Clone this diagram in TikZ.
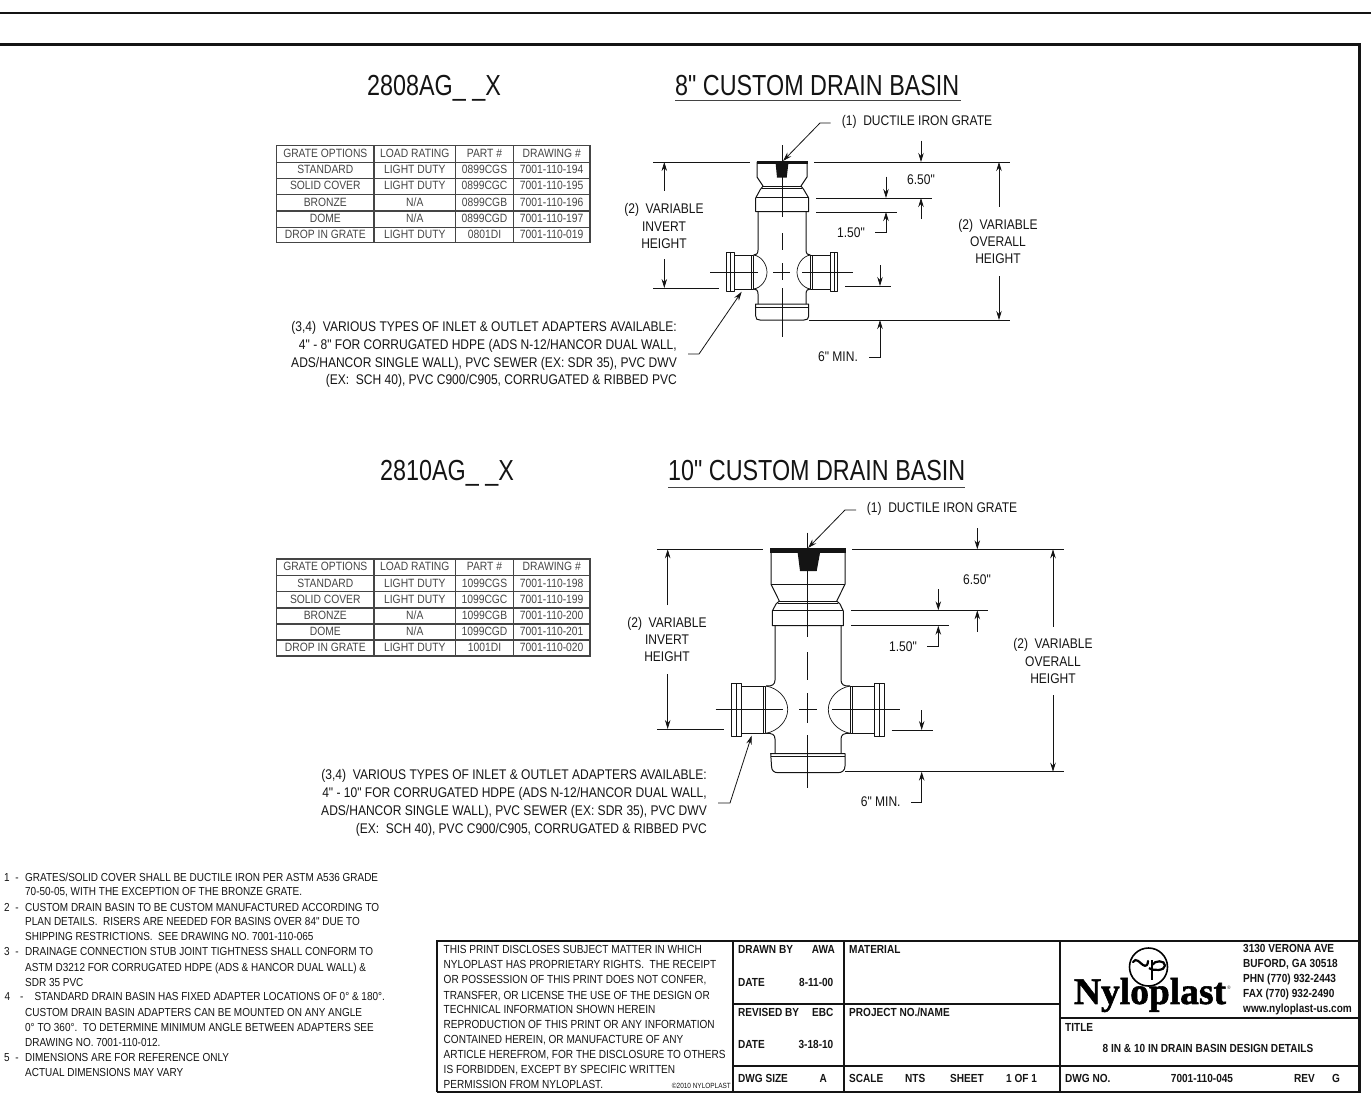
\documentclass[tikz,border=0pt]{standalone}
\usepackage{fontspec}
\setmainfont{Liberation Sans}[FakeStretch=0.86,Ligatures=TeXOff]
\newfontfamily\bigfont{Liberation Sans}[FakeStretch=0.805,Ligatures=TeXOff]
\newfontfamily\logofont{Liberation Serif}[FakeBold=1.5]
\usetikzlibrary{arrows.meta}
\definecolor{ink}{gray}{0.08}
\definecolor{tablegray}{gray}{0.27}
\tikzset{
 lab/.style={inner sep=0pt,align=center,text=ink,font=\fontsize{14}{17.4}\selectfont},
 labw/.style={lab,anchor=west,align=left},
 longlab/.style={inner sep=0pt,anchor=east,align=right,text=ink,font=\fontsize{14}{17.8}\selectfont},
 note/.style={inner sep=0pt,anchor=west,align=left,text=ink,text height=9.4pt,text depth=2.4pt,font=\fontsize{11.6}{14}\selectfont},
 block/.style={inner sep=0pt,anchor=west,align=left,text=ink,text height=9.4pt,text depth=2.4pt,font=\fontsize{11.7}{15}\selectfont},
 blockb/.style={block,font=\fontsize{11.7}{15}\selectfont\bfseries},
 tabc/.style={inner sep=0pt,text=tablegray,text height=9.4pt,text depth=2.4pt,font=\fontsize{12}{14}\selectfont},
 bigt/.style={inner sep=0pt,text=ink,text height=21pt,text depth=5pt,font=\bigfont\fontsize{29}{32}\selectfont},
 dim/.style={line width=0.8pt,draw=ink},
 tipd/.style={dim,-{Stealth[length=9pt,width=5.5pt]}},
 part/.style={line width=1pt,draw=ink,line join=round},
 fine/.style={line width=0.7pt,draw=ink,line join=round},
 frame/.style={line width=2pt,draw=ink},
 tbl/.style={line width=1.1pt,draw=tablegray},
}
\begin{document}
\begin{tikzpicture}[x=1pt,y=-1pt]
\useasboundingbox (0,0) rectangle (1371,1117);
% sheet frame
\draw[line width=2pt,draw=ink] (0,12.5) -- (1371,12.5);
\draw[line width=2.8pt,draw=ink] (0,44.5) -- (1359.5,44.5) -- (1359.5,1092) -- (437,1092);
% titles
\node[bigt,anchor=west] (t1a) at (367,87) {2808AG\_ \_X};
\node[bigt,anchor=west] (t1b) at (675,87) {8" CUSTOM DRAIN BASIN};
\draw[line width=1pt,draw=ink!80] (675,100) -- (961,100);
\node[bigt,anchor=west] (t2a) at (380,472) {2810AG\_ \_X};
\node[bigt,anchor=west] (t2b) at (668,472) {10" CUSTOM DRAIN BASIN};
\draw[line width=1pt,draw=ink!80] (668,487) -- (965,487);
% tables
\foreach \ty/\ya/\yb/\yc/\yd/\ye/\yf/\yg in {0/145.7/162.3/178.3/194.3/211/227.3/242.3, 1/559/575.5/591.5/608/624/640/656}{
 \draw[tbl] (276.7,\ya) rectangle (590,\yg);
 \foreach \yy in {\yb,\yc,\yd,\ye,\yf} \draw[tbl] (276.7,\yy) -- (590,\yy);
 \foreach \xx in {374,455.7,513.3} \draw[tbl] (\xx,\ya) -- (\xx,\yg);
}
\foreach \ya/\a/\b/\c/\d in {
 154/GRATE OPTIONS/LOAD RATING/PART \#/DRAWING \#,
 170.3/STANDARD/LIGHT DUTY/0899CGS/7001-110-194,
 186.3/SOLID COVER/LIGHT DUTY/0899CGC/7001-110-195,
 202.7/BRONZE/{N/A}/0899CGB/7001-110-196,
 219.2/DOME/{N/A}/0899CGD/7001-110-197,
 235/DROP IN GRATE/LIGHT DUTY/0801DI/7001-110-019,
 567/GRATE OPTIONS/LOAD RATING/PART \#/DRAWING \#,
 583.5/STANDARD/LIGHT DUTY/1099CGS/7001-110-198,
 599.7/SOLID COVER/LIGHT DUTY/1099CGC/7001-110-199,
 616/BRONZE/{N/A}/1099CGB/7001-110-200,
 632/DOME/{N/A}/1099CGD/7001-110-201,
 648/DROP IN GRATE/LIGHT DUTY/1001DI/7001-110-020}{
 \node[tabc] at (325.3,\ya) {\a};
 \node[tabc] at (414.8,\ya) {\b};
 \node[tabc] at (484.5,\ya) {\c};
 \node[tabc] at (551.7,\ya) {\d};
}
%% ---------- basin 1
\draw[part] (757,162) -- (757,177) -- (763,186) -- (760,190) -- (755.7,198) -- (755.7,211.7) -- (808.7,211.7) -- (808.7,198) -- (804,190) -- (801,186) -- (807,177) -- (807,162) -- cycle;
\draw[part] (755.7,197.7) -- (808.7,197.7) (763,186) -- (801,186) (762,188) -- (802,188);
\fill[ink] (756.5,161) rectangle (807.5,164);
\fill[ink] (775.7,164) -- (788.3,164) -- (786.7,177.7) -- (777,177.7) -- cycle;
% body
\draw[part] (758,212) -- (758,250) .. controls (758,254) and (756,255) .. (753.7,255);
\draw[part] (806,212) -- (806,250) .. controls (806,254) and (808,255) .. (810.3,255);
\draw[part] (758,304) -- (758,294) .. controls (758,290) and (756,289) .. (753.7,289);
\draw[part] (806,304) -- (806,294) .. controls (806,290) and (808,289) .. (810.3,289);
% branches
\draw[part] (726.7,252.7) rectangle (734,291.7);
\draw[fine] (730,252.7) -- (730,291.7);
\draw[part] (734,255) rectangle (751.7,289);
\draw[fine] (751.7,255) rectangle (753.7,289);
\draw[fine] (753.7,255) .. controls (761,256) and (767,264) .. (767,272.3) .. controls (767,280) and (761,288) .. (753.7,289);
\draw[part] (837.3,252.7) rectangle (830,291.7);
\draw[fine] (834,252.7) -- (834,291.7);
\draw[part] (830,255) rectangle (812.3,289);
\draw[fine] (812.3,255) rectangle (810.3,289);
\draw[fine] (810.3,255) .. controls (803,256) and (797,264) .. (797,272.3) .. controls (797,280) and (803,288) .. (810.3,289);
% cap
\draw[part] (755.7,304) -- (808.7,304) -- (808.7,316) .. controls (808.7,319) and (807,320) .. (804,320) -- (760,320) .. controls (757,320) and (755.7,319) .. (755.7,316) -- cycle;
\draw[part] (755.7,307) -- (808.7,307);
% centre lines
\draw[dim] (782,145) -- (782,216.7) (782,233) -- (782,250) (782,263) -- (782,280) (782,288) -- (782,336.7);
\draw[dim] (710,272.5) -- (758,272.5) (773,272.5) -- (790,272.5) (802,272.5) -- (853,272.5);
% extension lines
\draw[dim] (653,162) -- (750,162) (814,162) -- (1010,162);
\draw[dim] (653,288) -- (719,288);
\draw[dim] (809,320) -- (1010,320);
\draw[dim] (816,198) -- (931.7,198) (816,212) -- (896.7,212);
\draw[dim] (845,286) -- (890.7,286);
% dimension arrows
\draw[tipd] (664.3,190.7) -- (664.3,162);
\draw[tipd] (664.3,259) -- (664.3,288);
\draw[tipd] (999,206.7) -- (999,162);
\draw[tipd] (999,276) -- (999,320);
\draw[tipd] (921,140.7) -- (921,162);
\draw[tipd] (886,176.7) -- (886,198);
\draw[tipd] (921,219) -- (921,198);
\draw[tipd] (875,232.7) -- (886,232.7) -- (886,212);
\draw[tipd] (880,265) -- (880,286);
\draw[tipd] (869,357) -- (880,357) -- (880,320);
\draw[tipd] (830.7,123) -- (820,123) -- (783,161);
\draw[tipd] (688,354) -- (699,354) -- (741.7,291.7);
% labels
\node[lab] (v1) at (664,226) {(2)\ \ VARIABLE\\INVERT\\HEIGHT};
\node[lab] (o1) at (998,241.5) {(2)\ \ VARIABLE\\OVERALL\\HEIGHT};
\node[labw] (g1) at (841.7,122) {(1)\ \ DUCTILE IRON GRATE};
\node[lab] (d1) at (921,180) {6.50"};
\node[lab] (d2) at (851,233) {1.50"};
\node[lab] (d3) at (838,357) {6" MIN.};
\node[longlab] (a1) at (677,354.5) {(3,4)\ \ VARIOUS TYPES OF INLET \& OUTLET ADAPTERS AVAILABLE:\\4" - 8" FOR CORRUGATED HDPE (ADS N-12/HANCOR DUAL WALL,\\ADS/HANCOR SINGLE WALL), PVC SEWER (EX: SDR 35), PVC DWV\\(EX:\ \ SCH 40), PVC C900/C905, CORRUGATED \& RIBBED PVC};
%% ---------- basin 2
\draw[part] (771,549) -- (771,584.3) -- (779.3,601) -- (776,604) -- (772.3,611) -- (772.3,625.7) -- (843.3,625.7) -- (843.3,611) -- (840,604) -- (836.7,601) -- (845,584.3) -- (845,549) -- cycle;
\draw[part] (772.3,610.7) -- (843.3,610.7) (779.3,601) -- (836.7,601) (778,603) -- (838,603);
\draw[part] (771,584.3) -- (845,584.3);
\fill[ink] (770,548.3) rectangle (845.5,553);
\fill[ink] (797.7,553) -- (820,553) -- (816.7,571) -- (800,571) -- cycle;
% body
\draw[part] (775,626) -- (775,680) .. controls (775,684.5) and (772,686.5) .. (766,686);
\draw[part] (841,626) -- (841,680) .. controls (841,684.5) and (844,686.5) .. (850,686);
\draw[part] (775,753) -- (775,739) .. controls (775,734.5) and (772,733) .. (766,733.3);
\draw[part] (841,753) -- (841,739) .. controls (841,734.5) and (844,733) .. (850,733.3);
% branches
\draw[part] (731.7,683.3) rectangle (741.7,736);
\draw[fine] (736,683.3) -- (736,736);
\draw[part] (741.7,686) rectangle (763.3,733.3);
\draw[fine] (763.3,686) rectangle (765.5,733.3);
\draw[fine] (766,686) .. controls (778,688) and (787.7,698) .. (787.7,709.5) .. controls (787.7,721) and (778,731) .. (766,733.3);
\draw[part] (884,683.3) rectangle (874,736);
\draw[fine] (879.7,683.3) -- (879.7,736);
\draw[part] (874,686) rectangle (852.4,733.3);
\draw[fine] (852.4,686) rectangle (850.2,733.3);
\draw[fine] (850,686) .. controls (838,688) and (828.3,698) .. (828.3,709.5) .. controls (828.3,721) and (838,731) .. (850,733.3);
% cap
\draw[part] (770.7,753.5) -- (845,753.5) -- (845,766) .. controls (845,770.5) and (842,772.7) .. (838,772.7) -- (778,772.7) .. controls (774,772.7) and (771.5,770.5) .. (771.5,766) -- cycle;
\draw[part] (770.7,756.7) -- (845,756.7);
% centre lines
\draw[dim] (807.7,532.7) -- (807.7,636.7) (807.7,652) -- (807.7,680) (807.7,693) -- (807.7,723) (807.7,735) -- (807.7,788);
\draw[dim] (715.7,709.5) -- (783,709.5) (799,709.5) -- (816.7,709.5) (831.7,709.5) -- (900,709.5);
% extension lines
\draw[dim] (657.3,549.3) -- (762.7,549.3) (852,549.3) -- (1064,549.3);
\draw[dim] (657.3,729) -- (724,729);
\draw[dim] (845,771.7) -- (1064,771.7);
\draw[dim] (851,610.3) -- (988.3,610.3) (851,625.7) -- (949.3,625.7);
\draw[dim] (891.7,730) -- (932.7,730);
% dimension arrows
\draw[tipd] (667.7,605) -- (667.7,549.3);
\draw[tipd] (667.7,674.3) -- (667.7,729);
\draw[tipd] (1053,626.7) -- (1053,549.3);
\draw[tipd] (1053,695) -- (1053,771.7);
\draw[tipd] (977.3,528) -- (977.3,549.3);
\draw[tipd] (938.3,589) -- (938.3,610.3);
\draw[tipd] (977.3,631.7) -- (977.3,610.3);
\draw[tipd] (927,646.7) -- (938.3,646.7) -- (938.3,625.7);
\draw[tipd] (921.7,710) -- (921.7,730);
\draw[tipd] (911,802) -- (921.7,802) -- (921.7,771.7);
\draw[tipd] (856,510) -- (845,510) -- (808,548);
\draw[tipd] (718,803) -- (730,803) -- (751.7,735.5);
% labels
\node[lab] (v2) at (667,639.5) {(2)\ \ VARIABLE\\INVERT\\HEIGHT};
\node[lab] (o2) at (1053,661) {(2)\ \ VARIABLE\\OVERALL\\HEIGHT};
\node[labw] (g2) at (866.7,509) {(1)\ \ DUCTILE IRON GRATE};
\node[lab] (d4) at (977,580) {6.50"};
\node[lab] (d5) at (903,647) {1.50"};
\node[lab] (d6) at (880.7,802) {6" MIN.};
\node[longlab] (a2) at (707,803) {(3,4)\ \ VARIOUS TYPES OF INLET \& OUTLET ADAPTERS AVAILABLE:\\4" - 10" FOR CORRUGATED HDPE (ADS N-12/HANCOR DUAL WALL,\\ADS/HANCOR SINGLE WALL), PVC SEWER (EX: SDR 35), PVC DWV\\(EX:\ \ SCH 40), PVC C900/C905, CORRUGATED \& RIBBED PVC};
%% ---------- notes
\foreach \nn/\yy in {1/878,2/908,3/952,5/1058} {\node[note] at (4,\yy) {\nn\ \ -};}
\node[note] at (4.5,997) {\makebox[15.5pt][l]{4}-};
\node[note] at (34.5,997) {STANDARD DRAIN BASIN HAS FIXED ADAPTER LOCATIONS OF 0° \& 180°.};
\foreach \yy/\tt in {
 878/{GRATES/SOLID COVER SHALL BE DUCTILE IRON PER ASTM A536 GRADE},
 892/{70-50-05, WITH THE EXCEPTION OF THE BRONZE GRATE.},
 908/CUSTOM DRAIN BASIN TO BE CUSTOM MANUFACTURED ACCORDING TO,
 922/PLAN DETAILS.\ \ RISERS ARE NEEDED FOR BASINS OVER 84" DUE TO,
 937/SHIPPING RESTRICTIONS.\ \ SEE DRAWING NO. 7001-110-065,
 952/DRAINAGE CONNECTION STUB JOINT TIGHTNESS SHALL CONFORM TO,
 968/ASTM D3212 FOR CORRUGATED HDPE (ADS \& HANCOR DUAL WALL) \&,
 983/SDR 35 PVC,
 1013/CUSTOM DRAIN BASIN ADAPTERS CAN BE MOUNTED ON ANY ANGLE,
 1028/0° TO 360°.\ \ TO DETERMINE MINIMUM ANGLE BETWEEN ADAPTERS SEE,
 1043/DRAWING NO. 7001-110-012.,
 1058/DIMENSIONS ARE FOR REFERENCE ONLY,
 1073/ACTUAL DIMENSIONS MAY VARY}{
 \node[note] at (25,\yy) {\tt};
}
%% ---------- title block
\draw[frame] (437,1092) -- (437,941) -- (1359.5,941);
\draw[frame] (732.5,941) -- (732.5,1092);
\draw[frame] (843.5,941) -- (843.5,1092);
\draw[frame] (1060,941) -- (1060,1092);
\draw[frame] (732.5,1004) -- (1060,1004);
\draw[frame] (732.5,1066) -- (1359.5,1066);
\draw[frame] (1060,1018) -- (1359.5,1018);
\foreach \yy/\tt in {
 950/THIS PRINT DISCLOSES SUBJECT MATTER IN WHICH,
 965/NYLOPLAST HAS PROPRIETARY RIGHTS.\ \ THE RECEIPT,
 980/{OR POSSESSION OF THIS PRINT DOES NOT CONFER,},
 996/{TRANSFER, OR LICENSE THE USE OF THE DESIGN OR},
 1010/TECHNICAL INFORMATION SHOWN HEREIN,
 1025/REPRODUCTION OF THIS PRINT OR ANY INFORMATION,
 1040/{CONTAINED HEREIN, OR MANUFACTURE OF ANY},
 1055/{ARTICLE HEREFROM, FOR THE DISCLOSURE TO OTHERS},
 1070/{IS FORBIDDEN, EXCEPT BY SPECIFIC WRITTEN},
 1085/PERMISSION FROM NYLOPLAST.}{
 \node[block] at (443.5,\yy) {\tt};
}
\node[inner sep=0pt,anchor=east,text=ink,font=\fontsize{7.5}{9}\selectfont] (cr) at (731,1086) {©2010 NYLOPLAST};
\node[blockb] at (738,950) {DRAWN BY};
\node[blockb,anchor=east] at (835,950) {AWA};
\node[blockb] at (738,983) {DATE};
\node[blockb,anchor=east] at (833.5,983) {8-11-00};
\node[blockb] at (738,1013) {REVISED BY};
\node[blockb,anchor=east] at (833.5,1013) {EBC};
\node[blockb] at (738,1045) {DATE};
\node[blockb,anchor=east] at (833.5,1045) {3-18-10};
\node[blockb] at (738,1079) {DWG SIZE};
\node[blockb,anchor=east] at (827,1079) {A};
\node[blockb] at (849,950) {MATERIAL};
\node[blockb] at (849,1013) {PROJECT NO./NAME};
\node[blockb] at (849,1079) {SCALE};
\node[blockb] at (905,1079) {NTS};
\node[blockb] at (950,1079) {SHEET};
\node[blockb] at (1006,1079) {1 OF 1};
\node[blockb] at (1243,949) {3130 VERONA AVE};
\node[blockb] at (1243,964) {BUFORD, GA 30518};
\node[blockb] at (1243,979) {PHN (770) 932-2443};
\node[blockb] at (1243,994) {FAX (770) 932-2490};
\node[blockb] at (1243,1009) {www.nyloplast-us.com};
\node[blockb] at (1065,1028) {TITLE};
\node[blockb,anchor=center] at (1208,1049) {8 IN \& 10 IN DRAIN BASIN DESIGN DETAILS};
\node[blockb] at (1065,1079) {DWG NO.};
\node[blockb,anchor=center] at (1202,1079) {7001-110-045};
\node[blockb] at (1294,1079) {REV};
\node[blockb] at (1332,1079) {G};
% logo
\draw[line width=1.6pt,draw=black] (1148.5,967) circle (19);
\draw[line width=2.2pt,draw=black,line cap=round] (1133,962) .. controls (1136,957) and (1140,963) .. (1143,965) .. controls (1146,967) and (1148,965) .. (1148,961);
\draw[line width=2.2pt,draw=black] (1152,960) -- (1152,980);
\draw[line width=2.2pt,draw=black] (1149,968) .. controls (1153,971) and (1165,971) .. (1165,965.5) .. controls (1165,960) and (1155,960) .. (1152,965);
\fill[white] (1158,965.5) ellipse (2.2 and 1.4);
\node[inner sep=0pt,text=black,font=\logofont\fontsize{37.5}{40}\selectfont\bfseries] (logo) at (1150,995) {Nyloplast};
\node[inner sep=0pt,text=ink,font=\fontsize{5}{6}\selectfont] (reg) at (1229,987.5) {®};
\end{tikzpicture}
\end{document}
